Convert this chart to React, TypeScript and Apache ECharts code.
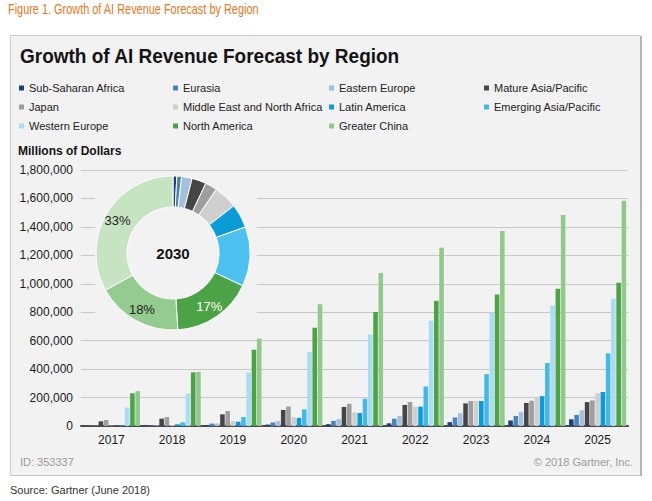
import React, { useEffect, useRef } from "react";
import * as echarts from "echarts";

// ---------- data ----------
const years = ["2017", "2018", "2019", "2020", "2021", "2022", "2023", "2024", "2025"];

const regions = [
  "Sub-Saharan Africa",
  "Eurasia",
  "Eastern Europe",
  "Mature Asia/Pacific",
  "Japan",
  "Middle East and North Africa",
  "Latin America",
  "Emerging Asia/Pacific",
  "Western Europe",
  "North America",
  "Greater China",
];

// Millions of dollars
const subSaharanAfrica = [1000, 2000, 5000, 10000, 13000, 19000, 27000, 38000, 47000];
const eurasia = [2000, 4000, 17000, 25000, 36000, 51000, 60000, 70000, 78000];
const easternEurope = [2000, 5000, 18000, 34000, 48000, 70000, 90000, 100000, 110000];
const matureAsiaPacific = [33000, 52000, 82000, 113000, 134000, 148000, 159000, 162000, 168000];
const japan = [42000, 63000, 105000, 137000, 156000, 169000, 176000, 178000, 180000];
const middleEastNorthAfrica = [3000, 8000, 35000, 61000, 95000, 136000, 176000, 202000, 230000];
const latinAmerica = [2000, 12000, 30000, 57000, 91000, 136000, 176000, 210000, 239000];
const emergingAsiaPacific = [4000, 26000, 63000, 117000, 192000, 278000, 365000, 443000, 511000];
const westernEurope = [130000, 228000, 376000, 521000, 644000, 740000, 798000, 848000, 895000];
const northAmerica = [230000, 377000, 537000, 691000, 802000, 880000, 925000, 965000, 1008000];
const greaterChina = [245000, 380000, 615000, 856000, 1076000, 1254000, 1371000, 1484000, 1584000];

const seriesValues = [
  subSaharanAfrica,
  eurasia,
  easternEurope,
  matureAsiaPacific,
  japan,
  middleEastNorthAfrica,
  latinAmerica,
  emergingAsiaPacific,
  westernEurope,
  northAmerica,
  greaterChina,
];

// 2030 share (percent)
const donutYear = "2030";
const donutShares = [0.8, 1, 2.2, 3, 2.5, 5, 5, 12.5, 17, 18, 33];

const yMin = 0;
const yMax = 1800000;
const yInterval = 200000;

// ---------- styles ----------
const barColors = [
  "#1d3f7c",
  "#4a84b5",
  "#a3c0dc",
  "#454545",
  "#9e9e9e",
  "#cfcfcf",
  "#0b9bd7",
  "#45b8ea",
  "#a9ddf4",
  "#4ba345",
  "#8fca8a",
];
const donutColors = [
  "#1d3f7c",
  "#4a84b5",
  "#a3c0dc",
  "#454545",
  "#9e9e9e",
  "#cfcfcf",
  "#0b9bd7",
  "#4cc1ef",
  "#4ba345",
  "#93cc8e",
  "#c6e4c1",
];
const donutLabelColors = ["#222", "#222", "#222", "#222", "#222", "#222", "#222", "#222", "#ffffff", "#222", "#222"];

const legendColumns = [
  { left: 19, items: [0, 4, 8] },
  { left: 173, items: [1, 5, 9] },
  { left: 329, items: [2, 6, 10] },
  { left: 484, items: [3, 7] },
];

const ARIAL = '"Liberation Sans", Arial, Helvetica, sans-serif';
const PANEL = "#f2f2f2";

export default function App() {
  const ref = useRef<HTMLDivElement>(null);

  useEffect(() => {
    if (!ref.current) return;
    const chart = echarts.init(ref.current, undefined, { renderer: "svg" });

    const barSeries = regions.map((name, i) => ({
      name,
      type: "bar",
      data: seriesValues[i],
      barGap: "15%",
      barCategoryGap: "6%",
      itemStyle: { color: barColors[i] },
      z: 2,
    }));

    const pieData = regions.map((name, i) => ({
      name,
      value: donutShares[i],
      itemStyle: { color: donutColors[i] },
      label: { color: donutLabelColors[i] },
    }));

    const option: any = {
      animation: false,
      backgroundColor: "#ffffff",
      textStyle: { fontFamily: ARIAL },
      grid: { left: 81, right: 24, top: 170, bottom: 75, containLabel: false },
      legend: legendColumns.map((col) => ({
        orient: "vertical",
        left: col.left,
        top: 81,
        padding: 0,
        icon: "rect",
        itemWidth: 5,
        itemHeight: 5,
        itemGap: 5,
        selectedMode: false,
        data: col.items.map((k) => regions[k]),
        textStyle: { fontSize: 11, color: "#222", fontFamily: ARIAL, lineHeight: 14 },
      })),
      xAxis: {
        type: "category",
        data: years,
        axisTick: { show: false },
        axisLine: { lineStyle: { color: "#4a4a4a", width: 2 } },
        axisLabel: { color: "#1a1a1a", fontSize: 12, margin: 8, fontFamily: ARIAL },
      },
      yAxis: {
        type: "value",
        min: yMin,
        max: yMax,
        interval: yInterval,
        axisLine: { show: false },
        axisTick: { show: false },
        splitLine: { lineStyle: { color: "#c8c8c8", width: 1 } },
        axisLabel: {
          color: "#1a1a1a",
          fontSize: 12,
          margin: 8,
          fontFamily: ARIAL,
          formatter: (v: number) => v.toLocaleString("en-US"),
        },
      },
      graphic: [
        {
          type: "rect",
          z: -10,
          shape: { x: 10.5, y: 35.5, width: 630, height: 440 },
          style: { fill: PANEL, stroke: "#c9c9c9", lineWidth: 1 },
        },
        {
          type: "line",
          z: -9,
          shape: { x1: 641, y1: 36, x2: 641, y2: 476 },
          style: { stroke: "#b5b5b5", lineWidth: 2 },
        },
        {
          type: "rect",
          z: 1,
          shape: { x: 95, y: 171, width: 162, height: 165 },
          style: { fill: PANEL },
        },
        {
          type: "text",
          x: 8,
          y: 10,
          scaleX: 0.78,
          style: {
            text: "Figure 1. Growth of AI Revenue Forecast by Region",
            fill: "#e87722",
            fontSize: 14,
            fontFamily: ARIAL,
            textVerticalAlign: "middle",
          },
        },
        {
          type: "text",
          x: 20,
          y: 56,
          scaleX: 0.95,
          style: {
            text: "Growth of AI Revenue Forecast by Region",
            fill: "#141414",
            fontSize: 20,
            fontWeight: "bold",
            fontFamily: ARIAL,
            textVerticalAlign: "middle",
          },
        },
        {
          type: "text",
          x: 18,
          y: 151,
          style: {
            text: "Millions of Dollars",
            fill: "#141414",
            fontSize: 12,
            fontWeight: "bold",
            fontFamily: ARIAL,
            textVerticalAlign: "middle",
          },
        },
        {
          type: "text",
          x: 173,
          y: 253,
          z: 10,
          style: {
            text: donutYear,
            fill: "#141414",
            fontSize: 15,
            fontWeight: "bold",
            fontFamily: ARIAL,
            textAlign: "center",
            textVerticalAlign: "middle",
          },
        },
        {
          type: "text",
          x: 20,
          y: 462,
          style: {
            text: "ID: 353337",
            fill: "#9a9a9a",
            fontSize: 11,
            fontFamily: ARIAL,
            textVerticalAlign: "middle",
          },
        },
        {
          type: "text",
          x: 633,
          y: 462,
          style: {
            text: "© 2018 Gartner, Inc.",
            fill: "#9a9a9a",
            fontSize: 11,
            fontFamily: ARIAL,
            textAlign: "right",
            textVerticalAlign: "middle",
          },
        },
        {
          type: "text",
          x: 10,
          y: 490,
          style: {
            text: "Source: Gartner (June 2018)",
            fill: "#333333",
            fontSize: 11,
            fontFamily: ARIAL,
            textVerticalAlign: "middle",
          },
        },
      ],
      series: [
        ...barSeries,
        {
          name: "2030 share",
          type: "pie",
          z: 5,
          silent: true,
          center: [173, 253],
          radius: [46, 77],
          startAngle: 90,
          clockwise: true,
          avoidLabelOverlap: false,
          itemStyle: { borderColor: "#ffffff", borderWidth: 1 },
          label: {
            show: true,
            position: "inside",
            fontSize: 13,
            fontFamily: ARIAL,
            formatter: (p: any) => (p.percent >= 15 ? `${Math.round(p.percent)}%` : ""),
          },
          labelLine: { show: false },
          emphasis: { disabled: true },
          data: pieData,
        },
      ],
    };

    chart.setOption(option);
    return () => chart.dispose();
  }, []);

  return (
    <div
      ref={ref}
      style={{ position: "fixed", left: 0, top: 0, width: 652, height: 501 }}
    />
  );
}
